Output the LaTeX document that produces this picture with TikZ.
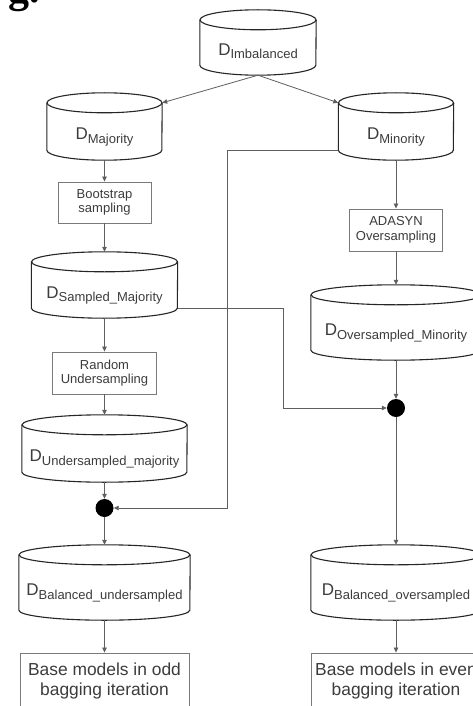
\documentclass[tikz,border=0pt]{standalone}
\usepackage{fontspec}
\setmainfont{Liberation Sans}
\newfontfamily\tagfont{Liberation Serif}
\usetikzlibrary{calc,arrows.meta}

\definecolor{wire}{HTML}{5F5F5F}
\definecolor{rim}{HTML}{262626}
\definecolor{boxline}{HTML}{7A7A7A}
\definecolor{ink}{HTML}{3C3C3C}

% dataset name: a large D with a lowered index
\newcommand\dsname[1]{{\fontsize{17}{17}\selectfont D}\raisebox{-3.5pt}{\fontsize{13}{13}\selectfont #1}}

% storage cylinder drawn around a body node; #2 is the half width
\newcommand\drawcyl[2]{%
  \draw[rim line] (#1.north) ellipse[x radius=#2, y radius=10pt];
  \draw[rim line] (#1.north west) -- ($(#1.south west)+(0,-10)$)
     arc[start angle=180, end angle=360, x radius=#2, y radius=10pt]
     -- (#1.north east);
  \coordinate (#1-top) at ($(#1.north)+(0,-10)$);
}

\tikzset{
  body/.style={inner sep=0pt, text=ink, text height=16pt, text depth=0pt},
  rim line/.style={draw=rim, line width=1.1pt},
  procbox/.style={draw=boxline, line width=0.9pt, fill=white, text=ink,
    align=center, inner sep=0pt, font=\fontsize{13}{14.5}\selectfont},
  procbig/.style={procbox, font=\fontsize{17.4}{19.5}\selectfont},
  joint/.style={circle, fill=black, minimum size=18pt, inner sep=0pt},
  flow/.style={draw=wire, line width=0.8pt, -{Triangle[length=5pt,width=4.5pt]}}
}

\begin{document}
\begin{tikzpicture}[x=1pt, y=-1pt]
\useasboundingbox (0,0) rectangle (473,706);
\fill[white] (0,0) rectangle (473,706);
\clip (0,0) rectangle (473,706);

% caption fragment
\node[anchor=base west, font=\tagfont\bfseries\fontsize{42}{42}\selectfont] (figtag) at (5,3) {g.};

% datasets
\node[body, minimum width=116pt, minimum height=55pt] (imb)  at (258,47.5)  {\dsname{Imbalanced}};
\node[body, minimum width=115pt, minimum height=57pt] (maj)  at (104.5,131.5) {\dsname{Majority}};
\node[body, minimum width=115pt, minimum height=57pt] (min)  at (396,131.5) {\dsname{Minority}};
\node[body, minimum width=146pt, minimum height=56pt] (smaj) at (104.5,290) {\dsname{Sampled\_Majority}};
\node[body, minimum width=165pt, minimum height=57pt] (umaj) at (104.5,453.5) {\dsname{Undersampled\_majority}};
\node[body, minimum width=170pt, minimum height=65pt] (omin) at (396,327.5) {\dsname{Oversampled\_Minority}};
\node[body, minimum width=171pt, minimum height=65pt] (bu)   at (104.5,587.5) {\dsname{Balanced\_undersampled}};
\node[body, minimum width=170pt, minimum height=65pt] (bo)   at (396,587.5) {\dsname{Balanced\_oversampled}};

\drawcyl{imb}{58pt}
\drawcyl{maj}{57.5pt}
\drawcyl{min}{57.5pt}
\drawcyl{smaj}{73pt}
\drawcyl{umaj}{82.5pt}
\drawcyl{omin}{85pt}
\drawcyl{bu}{85.5pt}
\drawcyl{bo}{85pt}

% processing steps
\node[procbox, minimum width=93pt, minimum height=41pt]  (boot) at (104.5,202.5) {Bootstrap\\sampling};
\node[procbox, minimum width=104pt, minimum height=42pt] (rand) at (104.5,373) {Random\\Undersampling};
\node[procbox, minimum width=93pt, minimum height=42pt]  (ada)  at (396,230) {ADASYN\\Oversampling};
\node[procbig, minimum width=169pt, minimum height=56pt] (odd)  at (104.5,681) {Base models in odd\\bagging iteration};
\node[procbig, minimum width=170pt, minimum height=56pt] (even) at (396,681) {Base models in even\\bagging iteration};

% merge points
\node[joint] (ljoin) at (104.5,508) {};
\node[joint] (rjoin) at (396,408) {};

% routing lanes
\coordinate (laneA) at (227,0);
\coordinate (laneB) at (283,0);

% connectors
\draw[flow] (imb.south) -- (maj.north east);
\draw[flow] (imb.south) -- (min.north west);
\draw[flow] (maj.south) -- (boot.north);
\draw[flow] (boot.south) -- (smaj-top);
\draw[flow] (smaj.south) -- (rand.north);
\draw[flow] (rand.south) -- (umaj-top);
\draw[flow] (umaj.south) -- (ljoin.north);
\draw[flow] (ljoin.south) -- (bu-top);
\draw[flow] (bu.south) -- (odd.north);
\draw[flow] (min.south) -- (ada.north);
\draw[flow] (ada.south) -- (omin-top);
\draw[flow] (omin.south) -- (rjoin.north);
\draw[flow] (rjoin.south) -- (bo-top);
\draw[flow] (bo.south) -- (even.north);

\coordinate (minport) at ($(min.south west)+(0,-10)$);
\draw[flow] (minport) -- (minport -| laneA) |- (ljoin.east);
\coordinate (smajport) at ($(smaj.south east)+(0,-10)$);
\draw[flow] (smajport) -- (smajport -| laneB) |- (rjoin.west);
\end{tikzpicture}
\end{document}
